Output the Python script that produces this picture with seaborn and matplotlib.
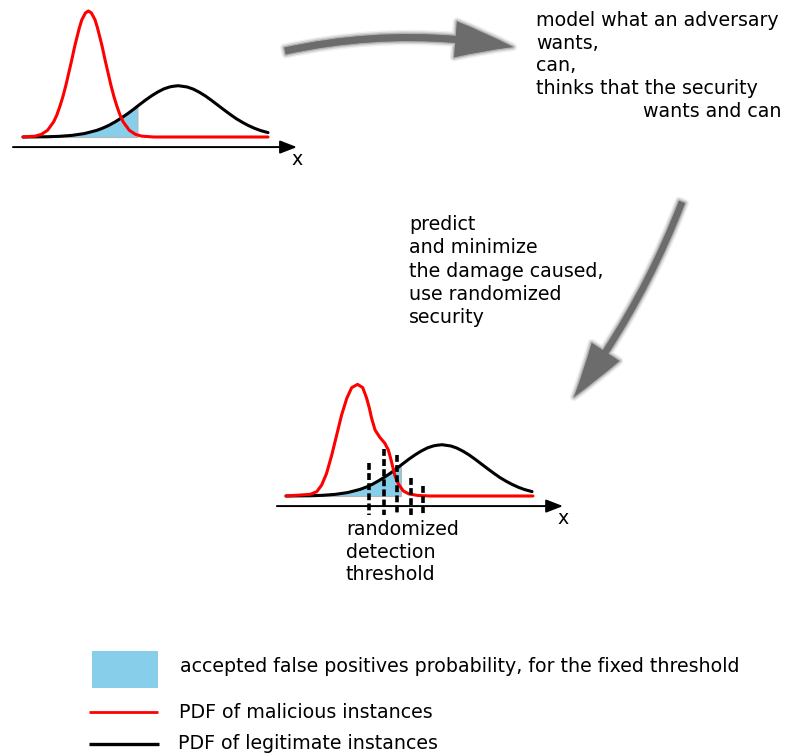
import numpy as np
import matplotlib
matplotlib.use('Agg')
import matplotlib.pyplot as plt
import matplotlib.patheffects as pe
from matplotlib.patches import FancyArrowPatch, Rectangle, ArrowStyle
import seaborn as sns

# PDF of legitimate instances (same curve in both sketches)
legit_x = [0, 1, 1.5, 2, 2.5, 3, 3.25, 3.5, 3.75, 4, 4.25, 4.5, 4.67, 5, 5.25, 5.5,
           5.75, 6, 6.15, 6.34, 6.7, 6.95, 7.2, 7.45, 7.7, 7.95, 8.2, 8.45, 8.7,
           8.95, 9.2, 9.45, 9.7, 10]
legit_y = [0, 0.002, 0.0055, 0.013, 0.027, 0.052, 0.070, 0.092, 0.119, 0.149, 0.182,
           0.218, 0.244, 0.293, 0.327, 0.357, 0.382, 0.398, 0.403, 0.407, 0.397,
           0.380, 0.355, 0.325, 0.290, 0.253, 0.216, 0.180, 0.146, 0.117, 0.091,
           0.069, 0.051, 0.035]

# PDF of malicious instances, fixed threshold sketch
mal_x = [0, 0.5, 0.75, 1.0, 1.25, 1.375, 1.5, 1.625, 1.75, 1.875, 2.0, 2.1, 2.2,
         2.3, 2.4, 2.55, 2.67, 2.79, 2.94, 3.04, 3.14, 3.24, 3.34, 3.465, 3.59,
         3.715, 3.84, 3.965, 4.09, 4.34, 4.59, 4.84, 5.34, 10]
mal_y = [0, 0.007, 0.021, 0.053, 0.12, 0.172, 0.24, 0.318, 0.41, 0.515, 0.62, 0.711,
         0.79, 0.866, 0.93, 0.985, 1.0, 0.985, 0.93, 0.866, 0.79, 0.711, 0.62,
         0.515, 0.41, 0.318, 0.24, 0.172, 0.12, 0.053, 0.021, 0.007, 0, 0]

# PDF of malicious instances, randomized threshold sketch
mal_rand_x = [0, 0.98, 1.25, 1.45, 1.65, 1.86, 2.06, 2.26, 2.47, 2.67, 2.91, 3.12,
              3.28, 3.39, 3.48, 3.62, 3.82, 4.02, 4.16, 4.26, 4.34, 4.43, 4.57,
              4.77, 5.0, 5.37, 5.85, 10.04]
mal_rand_y = [0, 0.013, 0.034, 0.087, 0.18, 0.325, 0.484, 0.643, 0.775, 0.86, 0.886,
              0.86, 0.775, 0.696, 0.617, 0.524, 0.464, 0.418, 0.365, 0.294, 0.23,
              0.159, 0.095, 0.04, 0.016, 0.004, 0, 0]

fixed_threshold = 4.67
rand_thresholds = [3.39, 3.99, 4.51, 5.07, 5.57]
rand_threshold_tops = [0.26, 0.373, 0.325, 0.145, 0.082]

top_text = ['model what an adversary', 'wants,', 'can,', 'thinks that the security']
top_text_last = 'wants and can'
mid_text = ['predict', 'and minimize', 'the damage caused,', 'use randomized', 'security']
low_text = ['randomized', 'detection', 'threshold']
legend_labels = ['accepted false positives probability, for the fixed threshold',
                 'PDF of malicious instances',
                 'PDF of legitimate instances']

W, H = 787, 756
FS = 13.7
SKY = '#87ceeb'
GREY = '#6c6c6c'

sns.set_theme(style='white')
plt.rcParams['font.family'] = ['DejaVu Sans']
plt.rcParams['text.color'] = 'black'

fig = plt.figure(figsize=(W / 100, H / 100), dpi=100)

# overlay axes in pixel units for text, arrows and legend
ov = fig.add_axes([0, 0, 1, 1])
ov.set_xlim(0, W)
ov.set_ylim(H, 0)
ov.axis('off')


def make_inset(x0, y0, sx, sy, xlim, ylim):
    left, right = x0 + xlim[0] * sx, x0 + xlim[1] * sx
    top, bottom = y0 - ylim[1] * sy, y0 - ylim[0] * sy
    ax = fig.add_axes([left / W, 1 - bottom / H, (right - left) / W, (bottom - top) / H])
    ax.patch.set_alpha(0)
    return ax


def draw_sketch(ax, mx, my, axis_from, axis_to, xlim, ylim):
    x = np.array(legit_x)
    y = np.array(legit_y)
    m = x <= fixed_threshold
    ax.fill_between(x[m], y[m], 0, facecolor=SKY, edgecolor='#b4b4b4', lw=0.8, zorder=1)
    sns.lineplot(x=legit_x, y=legit_y, color='black', lw=2.2, ax=ax, zorder=2)
    sns.lineplot(x=mx, y=my, color='red', lw=2.2, ax=ax, zorder=3)
    ax.annotate('', xy=(axis_to, -0.08), xytext=(axis_from, -0.08),
                arrowprops=dict(arrowstyle='-|>,head_length=0.85,head_width=0.33',
                                color='black', lw=1.4, shrinkA=0, shrinkB=0),
                annotation_clip=False)
    ax.text(axis_to + 0.02, -0.175, 'x', fontsize=FS, ha='center', va='center')
    ax.set_xlim(xlim)
    ax.set_ylim(ylim)
    ax.axis('off')


# fixed threshold sketch
xl, yl = (-0.5, 11.8), (-0.25, 1.05)
ax1 = make_inset(23, 137, 24.5, 126, xl, yl)
draw_sketch(ax1, mal_x, mal_y, -0.41, 11.18, xl, yl)

# randomized threshold sketch
xl2, yl2 = (-0.5, 11.8), (-0.25, 1.0)
ax2 = make_inset(286, 496, 24.6, 126, xl2, yl2)
draw_sketch(ax2, mal_rand_x, mal_rand_y, -0.37, 11.26, xl2, yl2)
for xt, yt in zip(rand_thresholds, rand_threshold_tops):
    ax2.plot([xt, xt], [yt, -0.15], color='black', lw=2.6, ls=(0, (1.9, 0.9)),
             dash_capstyle='butt', zorder=4, clip_on=False)


# blurry grey arrows
def grey_arrow(p_from, p_to, rad, tail_w, head_w, head_len):
    k = 0.72  # px -> pt
    style = ArrowStyle('simple', head_length=head_len * k, head_width=head_w * k,
                       tail_width=tail_w * k)
    arr = FancyArrowPatch(p_from, p_to, arrowstyle=style, mutation_scale=1,
                          connectionstyle=f'arc3,rad={rad}', shrinkA=0, shrinkB=0,
                          facecolor=GREY, edgecolor='none')
    arr.set_path_effects([
        pe.Stroke(linewidth=6, foreground=GREY, alpha=0.1),
        pe.Stroke(linewidth=4, foreground=GREY, alpha=0.2),
        pe.Stroke(linewidth=2, foreground=GREY, alpha=0.35),
        pe.Normal(),
    ])
    ov.add_patch(arr)


grey_arrow((285, 51), (513, 47), -0.1, 7, 36, 58)
grey_arrow((682, 202), (574, 397), -0.07, 6.5, 33, 55)

# text blocks
for i, line in enumerate(top_text):
    ov.text(536, 26 + i * 22.7, line, fontsize=FS, va='baseline', ha='left')
ov.text(643, 26 + 4 * 22.7, top_text_last, fontsize=FS, va='baseline', ha='left')

for i, line in enumerate(mid_text):
    ov.text(409, 230 + i * 23.3, line, fontsize=FS, va='baseline', ha='left')

for i, line in enumerate(low_text):
    ov.text(346, 535 + i * 22.5, line, fontsize=FS, va='baseline', ha='left')

# legend
ov.add_patch(Rectangle((92, 651), 65.5, 36.5, facecolor=SKY, edgecolor='none'))
ov.plot([89, 158], [712.3, 712.3], color='red', lw=2.0, solid_capstyle='butt')
ov.plot([89, 159], [744.3, 744.3], color='black', lw=2.4, solid_capstyle='butt')
ov.text(180, 672.5, legend_labels[0], fontsize=FS, va='baseline', ha='left')
ov.text(179, 718.3, legend_labels[1], fontsize=FS, va='baseline', ha='left')
ov.text(178, 749.3, legend_labels[2], fontsize=FS, va='baseline', ha='left')

fig.savefig('out.png', dpi=100)
